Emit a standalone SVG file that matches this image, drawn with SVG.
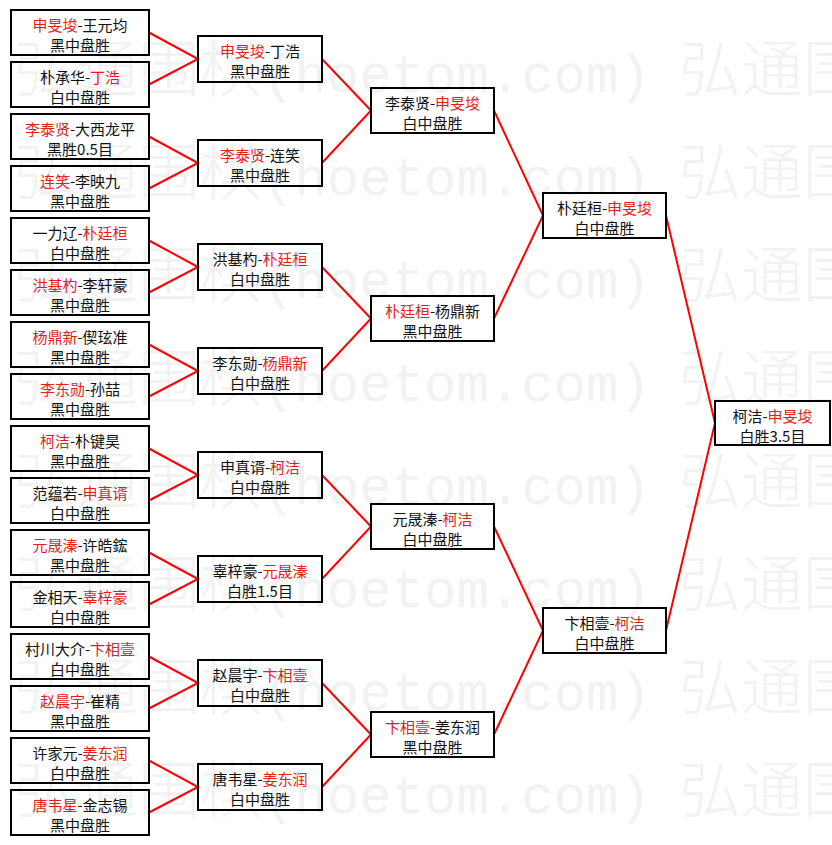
<svg xmlns="http://www.w3.org/2000/svg" width="832" height="845" viewBox="0 0 832 845">
<style>
.wm{font-family:"Noto Sans CJK SC",sans-serif;font-size:62px;font-weight:300;fill:#f2f2f2}
.wm .m{font-family:"Liberation Mono",monospace;font-size:54px}
.b{fill:none;stroke:#000;stroke-width:2}
.t{font-family:"Noto Sans CJK SC",sans-serif;font-size:15px;fill:#111;text-anchor:middle}
.r{fill:#e41e1e}
.c{fill:none;stroke:#f00;stroke-width:2}
</style>
<rect width="832" height="845" fill="#fff"/>
<g id="watermark">
<text class="wm" x="14" y="92">弘通围棋<tspan class="m">(hoetom.com)</tspan><tspan dx="28">弘通围</tspan></text>
<text class="wm" x="14" y="195">弘通围棋<tspan class="m">(hoetom.com)</tspan><tspan dx="28">弘通围</tspan></text>
<text class="wm" x="14" y="298">弘通围棋<tspan class="m">(hoetom.com)</tspan><tspan dx="28">弘通围</tspan></text>
<text class="wm" x="14" y="401">弘通围棋<tspan class="m">(hoetom.com)</tspan><tspan dx="28">弘通围</tspan></text>
<text class="wm" x="14" y="504">弘通围棋<tspan class="m">(hoetom.com)</tspan><tspan dx="28">弘通围</tspan></text>
<text class="wm" x="14" y="607">弘通围棋<tspan class="m">(hoetom.com)</tspan><tspan dx="28">弘通围</tspan></text>
<text class="wm" x="14" y="710">弘通围棋<tspan class="m">(hoetom.com)</tspan><tspan dx="28">弘通围</tspan></text>
<text class="wm" x="14" y="813">弘通围棋<tspan class="m">(hoetom.com)</tspan><tspan dx="28">弘通围</tspan></text>
</g>
<g id="connectors">
<polyline class="c" points="149,32.5 198,59 149,84.5"/>
<polyline class="c" points="149,136.5 198,163 149,188.5"/>
<polyline class="c" points="149,240.5 198,267 149,292.5"/>
<polyline class="c" points="149,344.5 198,371 149,396.5"/>
<polyline class="c" points="149,448.5 198,475 149,500.5"/>
<polyline class="c" points="149,552.5 198,579 149,604.5"/>
<polyline class="c" points="149,656.5 198,683 149,708.5"/>
<polyline class="c" points="149,760.5 198,787 149,812.5"/>
<polyline class="c" points="322,59 371,110.5 322,163"/>
<polyline class="c" points="322,267 371,318.5 322,371"/>
<polyline class="c" points="322,475 371,526.5 322,579"/>
<polyline class="c" points="322,683 371,734.5 322,787"/>
<polyline class="c" points="494,110.5 543,215.5 494,318.5"/>
<polyline class="c" points="494,526.5 543,630.5 494,734.5"/>
<polyline class="c" points="666,215.5 715,423 666,630.5"/>
</g>
<g id="r1-1"><rect class="b" x="11" y="10" width="138" height="45"/><text class="t" x="80" y="30.5"><tspan class="r">申旻埈</tspan>-王元均</text><text class="t" x="80" y="50.5">黑中盘胜</text></g>
<g id="r1-2"><rect class="b" x="11" y="62" width="138" height="45"/><text class="t" x="80" y="82.5">朴承华-<tspan class="r">丁浩</tspan></text><text class="t" x="80" y="102.5">白中盘胜</text></g>
<g id="r1-3"><rect class="b" x="11" y="114" width="138" height="45"/><text class="t" x="80" y="134.5"><tspan class="r">李泰贤</tspan>-大西龙平</text><text class="t" x="80" y="154.5">黑胜0.5目</text></g>
<g id="r1-4"><rect class="b" x="11" y="166" width="138" height="45"/><text class="t" x="80" y="186.5"><tspan class="r">连笑</tspan>-李映九</text><text class="t" x="80" y="206.5">黑中盘胜</text></g>
<g id="r1-5"><rect class="b" x="11" y="218" width="138" height="45"/><text class="t" x="80" y="238.5">一力辽-<tspan class="r">朴廷桓</tspan></text><text class="t" x="80" y="258.5">白中盘胜</text></g>
<g id="r1-6"><rect class="b" x="11" y="270" width="138" height="45"/><text class="t" x="80" y="290.5"><tspan class="r">洪基杓</tspan>-李轩豪</text><text class="t" x="80" y="310.5">黑中盘胜</text></g>
<g id="r1-7"><rect class="b" x="11" y="322" width="138" height="45"/><text class="t" x="80" y="342.5"><tspan class="r">杨鼎新</tspan>-偰玹准</text><text class="t" x="80" y="362.5">黑中盘胜</text></g>
<g id="r1-8"><rect class="b" x="11" y="374" width="138" height="45"/><text class="t" x="80" y="394.5"><tspan class="r">李东勋</tspan>-孙喆</text><text class="t" x="80" y="414.5">黑中盘胜</text></g>
<g id="r1-9"><rect class="b" x="11" y="426" width="138" height="45"/><text class="t" x="80" y="446.5"><tspan class="r">柯洁</tspan>-朴键昊</text><text class="t" x="80" y="466.5">黑中盘胜</text></g>
<g id="r1-10"><rect class="b" x="11" y="478" width="138" height="45"/><text class="t" x="80" y="498.5">范蕴若-<tspan class="r">申真谞</tspan></text><text class="t" x="80" y="518.5">白中盘胜</text></g>
<g id="r1-11"><rect class="b" x="11" y="530" width="138" height="45"/><text class="t" x="80" y="550.5"><tspan class="r">元晟溱</tspan>-许皓鋐</text><text class="t" x="80" y="570.5">黑中盘胜</text></g>
<g id="r1-12"><rect class="b" x="11" y="582" width="138" height="45"/><text class="t" x="80" y="602.5">金相天-<tspan class="r">辜梓豪</tspan></text><text class="t" x="80" y="622.5">白中盘胜</text></g>
<g id="r1-13"><rect class="b" x="11" y="634" width="138" height="45"/><text class="t" x="80" y="654.5">村川大介-<tspan class="r">卞相壹</tspan></text><text class="t" x="80" y="674.5">白中盘胜</text></g>
<g id="r1-14"><rect class="b" x="11" y="686" width="138" height="45"/><text class="t" x="80" y="706.5"><tspan class="r">赵晨宇</tspan>-崔精</text><text class="t" x="80" y="726.5">黑中盘胜</text></g>
<g id="r1-15"><rect class="b" x="11" y="738" width="138" height="45"/><text class="t" x="80" y="758.5">许家元-<tspan class="r">姜东润</tspan></text><text class="t" x="80" y="778.5">白中盘胜</text></g>
<g id="r1-16"><rect class="b" x="11" y="790" width="138" height="45"/><text class="t" x="80" y="810.5"><tspan class="r">唐韦星</tspan>-金志锡</text><text class="t" x="80" y="830.5">黑中盘胜</text></g>
<g id="r2-1"><rect class="b" x="198" y="36" width="124" height="46"/><text class="t" x="260" y="57"><tspan class="r">申旻埈</tspan>-丁浩</text><text class="t" x="260" y="77">黑中盘胜</text></g>
<g id="r2-2"><rect class="b" x="198" y="140" width="124" height="46"/><text class="t" x="260" y="161"><tspan class="r">李泰贤</tspan>-连笑</text><text class="t" x="260" y="181">黑中盘胜</text></g>
<g id="r2-3"><rect class="b" x="198" y="244" width="124" height="46"/><text class="t" x="260" y="265">洪基杓-<tspan class="r">朴廷桓</tspan></text><text class="t" x="260" y="285">白中盘胜</text></g>
<g id="r2-4"><rect class="b" x="198" y="348" width="124" height="46"/><text class="t" x="260" y="369">李东勋-<tspan class="r">杨鼎新</tspan></text><text class="t" x="260" y="389">白中盘胜</text></g>
<g id="r2-5"><rect class="b" x="198" y="452" width="124" height="46"/><text class="t" x="260" y="473">申真谞-<tspan class="r">柯洁</tspan></text><text class="t" x="260" y="493">白中盘胜</text></g>
<g id="r2-6"><rect class="b" x="198" y="556" width="124" height="46"/><text class="t" x="260" y="577">辜梓豪-<tspan class="r">元晟溱</tspan></text><text class="t" x="260" y="597">白胜1.5目</text></g>
<g id="r2-7"><rect class="b" x="198" y="660" width="124" height="46"/><text class="t" x="260" y="681">赵晨宇-<tspan class="r">卞相壹</tspan></text><text class="t" x="260" y="701">白中盘胜</text></g>
<g id="r2-8"><rect class="b" x="198" y="764" width="124" height="46"/><text class="t" x="260" y="785">唐韦星-<tspan class="r">姜东润</tspan></text><text class="t" x="260" y="805">白中盘胜</text></g>
<g id="r3-1"><rect class="b" x="371" y="88" width="123" height="45"/><text class="t" x="432.5" y="108.5">李泰贤-<tspan class="r">申旻埈</tspan></text><text class="t" x="432.5" y="128.5">白中盘胜</text></g>
<g id="r3-2"><rect class="b" x="371" y="296" width="123" height="45"/><text class="t" x="432.5" y="316.5"><tspan class="r">朴廷桓</tspan>-杨鼎新</text><text class="t" x="432.5" y="336.5">黑中盘胜</text></g>
<g id="r3-3"><rect class="b" x="371" y="504" width="123" height="45"/><text class="t" x="432.5" y="524.5">元晟溱-<tspan class="r">柯洁</tspan></text><text class="t" x="432.5" y="544.5">白中盘胜</text></g>
<g id="r3-4"><rect class="b" x="371" y="712" width="123" height="45"/><text class="t" x="432.5" y="732.5"><tspan class="r">卞相壹</tspan>-姜东润</text><text class="t" x="432.5" y="752.5">黑中盘胜</text></g>
<g id="r4-1"><rect class="b" x="543" y="193" width="123" height="45"/><text class="t" x="604.5" y="213.5">朴廷桓-<tspan class="r">申旻埈</tspan></text><text class="t" x="604.5" y="233.5">白中盘胜</text></g>
<g id="r4-2"><rect class="b" x="543" y="608" width="123" height="45"/><text class="t" x="604.5" y="628.5">卞相壹-<tspan class="r">柯洁</tspan></text><text class="t" x="604.5" y="648.5">白中盘胜</text></g>
<g id="final"><rect class="b" x="715" y="401" width="115" height="44"/><text class="t" x="772.5" y="421.5">柯洁-<tspan class="r">申旻埈</tspan></text><text class="t" x="772.5" y="441.5">白胜3.5目</text></g>
</svg>
